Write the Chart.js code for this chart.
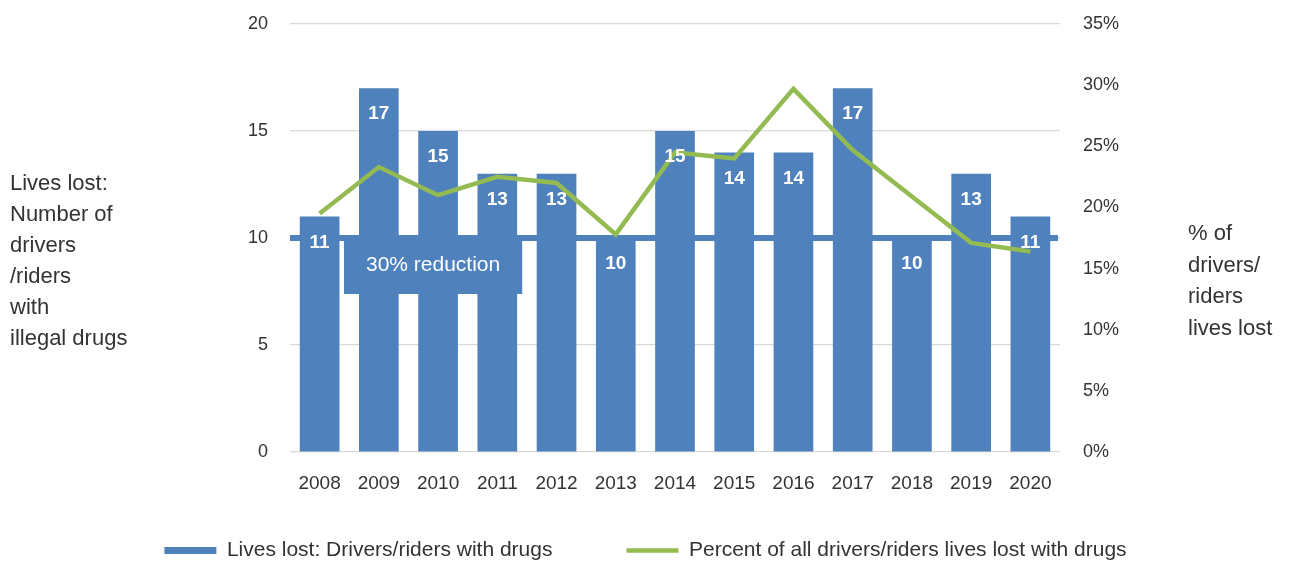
<!DOCTYPE html>
<html>
<head>
<meta charset="utf-8">
<title>Lives lost: drivers/riders with illegal drugs</title>
<script src="https://cdn.jsdelivr.net/npm/chart.js@4"></script>
<style>
  html, body { margin: 0; padding: 0; background: #fff; }
  canvas { display: block; }
</style>
</head>
<body>
<canvas id="drugsChart" width="1291" height="563"></canvas>
<script>
// data
const years = ['2008', '2009', '2010', '2011', '2012', '2013', '2014', '2015', '2016', '2017', '2018', '2019', '2020'];
const livesLost = [11, 17, 15, 13, 13, 10, 15, 14, 14, 17, 10, 13, 11];
const percentLost = [19.5, 23.3, 21.0, 22.5, 22.0, 17.8, 24.5, 24.0, 29.7, 24.7, 20.9, 17.1, 16.4];

const targetValue = 10;           // 30% reduction target line
const targetLabel = '30% reduction';
const targetLabelYear = '2010';   // category the label box sits under

const leftTitle = ['Lives lost:', 'Number of', 'drivers', '/riders', 'with', 'illegal drugs'];
const rightTitle = ['% of', 'drivers/', 'riders', 'lives lost'];

const barColor = '#4F81BD';
const lineColor = '#94BA52';
const textColor = '#333333';
const gridColor = '#D9D9D9';
const fontFamily = "'Liberation Sans', Arial, sans-serif";

Chart.defaults.font.family = fontFamily;
Chart.defaults.color = textColor;

// target line, label box, bar values and side titles
const extras = {
    id: 'extras',
    afterLayout(chart) {
        // the legend sits close under the axis; let the year labels draw below the box
        const x = chart.scales.x;
        x.bottom = x.top + 60;
    },
    beforeDatasetsDraw(chart) {
        const { ctx, chartArea, scales: { y } } = chart;
        const py = y.getPixelForValue(targetValue);
        ctx.save();
        ctx.strokeStyle = barColor;
        ctx.lineWidth = 6;
        ctx.beginPath();
        ctx.moveTo(chartArea.left, py);
        ctx.lineTo(chartArea.right - 2, py);
        ctx.stroke();
        ctx.restore();
    },
    afterDatasetsDraw(chart) {
        const { ctx, scales: { x, y } } = chart;
        const py = y.getPixelForValue(targetValue);

        // label box under the target line
        ctx.save();
        ctx.font = '21px ' + fontFamily;
        const tw = ctx.measureText(targetLabel).width;
        const cx = x.getPixelForValue(years.indexOf(targetLabelYear)) - 5;
        const boxW = tw + 44;
        const boxTop = py + 3;
        const boxH = 53;
        ctx.fillStyle = barColor;
        ctx.fillRect(cx - boxW / 2, boxTop, boxW, boxH);
        ctx.fillStyle = '#FFFFFF';
        ctx.textAlign = 'center';
        ctx.textBaseline = 'middle';
        ctx.fillText(targetLabel, cx, boxTop + 24);

        // value labels inside the bars
        ctx.font = 'bold 19px ' + fontFamily;
        const meta = chart.getDatasetMeta(0);
        meta.data.forEach((bar, i) => {
            ctx.fillText(String(livesLost[i]), bar.x, bar.y + 26);
        });
        ctx.restore();
    },
    afterDraw(chart) {
        const { ctx, chartArea } = chart;
        ctx.save();
        ctx.font = '22px ' + fontFamily;
        ctx.fillStyle = textColor;
        ctx.textAlign = 'left';
        ctx.textBaseline = 'middle';
        leftTitle.forEach((t, i) => ctx.fillText(t, 10, 184 + i * 31));
        rightTitle.forEach((t, i) => ctx.fillText(t, chartArea.right + 128, 234 + i * 31.5));
        ctx.restore();
    }
};

// fixed axis sizes; tick padding should not push the plot area down
function fitVertical(width) {
    return (scale) => {
        scale.width = width;
        scale.paddingTop = 0;
        scale.paddingBottom = 0;
    };
}

const ctx = document.getElementById('drugsChart').getContext('2d');

new Chart(ctx, {
    type: 'bar',
    data: {
        labels: years,
        datasets: [
            {
                type: 'bar',
                label: 'Lives lost: Drivers/riders with drugs',
                data: livesLost,
                backgroundColor: barColor,
                borderWidth: 0,
                barPercentage: 0.67,
                categoryPercentage: 1,
                pointStyle: 'rect',
                yAxisID: 'y',
                order: 2
            },
            {
                type: 'line',
                label: 'Percent of all drivers/riders lives lost with drugs',
                data: percentLost,
                borderColor: lineColor,
                backgroundColor: lineColor,
                borderWidth: 4.5,
                pointRadius: 0,
                tension: 0,
                fill: false,
                pointStyle: 'line',
                yAxisID: 'y1',
                order: 1
            }
        ]
    },
    options: {
        responsive: false,
        animation: false,
        devicePixelRatio: 1,
        layout: {
            padding: { top: 24, left: 0, right: 0, bottom: -8 }
        },
        plugins: {
            tooltip: { enabled: false },
            legend: {
                position: 'bottom',
                labels: {
                    usePointStyle: true,
                    pointStyleWidth: 52,
                    boxHeight: 7,
                    padding: 74,
                    color: textColor,
                    font: { size: 21 },
                    sort: (a, b) => a.datasetIndex - b.datasetIndex
                }
            }
        },
        scales: {
            x: {
                grid: { display: false, drawTicks: false },
                border: { display: false },
                ticks: { padding: 20, font: { size: 19 }, color: textColor },
                afterFit(scale) { scale.height = 14; }
            },
            y: {
                position: 'left',
                min: 0,
                max: 20,
                ticks: { stepSize: 5, padding: 22, font: { size: 18 }, color: textColor },
                grid: { color: gridColor, lineWidth: 1.2, drawTicks: false },
                border: { display: false },
                afterFit: fitVertical(290)
            },
            y1: {
                position: 'right',
                min: 0,
                max: 35,
                ticks: {
                    stepSize: 5,
                    padding: 23,
                    font: { size: 18 },
                    color: textColor,
                    callback: (v) => v + '%'
                },
                grid: { display: false, drawTicks: false },
                border: { display: false },
                afterFit: fitVertical(231)
            }
        }
    },
    plugins: [extras]
});
</script>
</body>
</html>
